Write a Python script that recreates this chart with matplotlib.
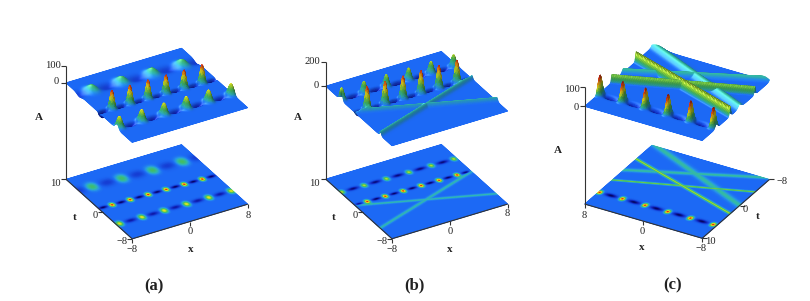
import numpy as np
import matplotlib
matplotlib.use("Agg")
import matplotlib.pyplot as plt
from matplotlib.colors import LinearSegmentedColormap
from mpl_toolkits.mplot3d import proj3d

W, H = 810, 301
plt.rcParams['font.family'] = ['Liberation Serif', 'DejaVu Serif']

# ---- values: (x, t) of the lumps, heights, pits, line solitons ----
A_ROW1_X = [-6.25, -2.21, 1.93, 6.0]
A_ROW1_T = [6.39, 6.24, 6.02, 5.94]
A_ROW1_H = [34, 35, 36, 37]
A_PIT1_X = [-8.2, -4.2, -0.14, 3.97, 8.0]
A_PIT1_T = [6.4, 6.3, 6.1, 6.0, 5.9]
A_PIT1_D = [-12, -12, -12, -12, -12]
A_ROW2_X = [-6.26, -3.8, -1.33, 1.13, 3.6, 6.07]
A_ROW2_T = [0.91, 0.85, 0.79, 0.73, 0.67, 0.61]
A_ROW2_H = [115, 115, 115, 115, 115, 115]
A_PIT2_X = [-7.5, -5.03, -2.56, -0.1, 2.37, 4.84, 7.3]
A_PIT2_T = [0.94, 0.88, 0.82, 0.76, 0.70, 0.64, 0.58]
A_PIT2_D = [-36, -36, -36, -36, -36, -36, -36]
A_ROW3_X = [-7.65, -4.58, -1.51, 1.56, 4.63, 7.7]
A_ROW3_T = [-3.86, -3.9, -3.93, -3.97, -4.0, -4.04]
A_ROW3_H = [70, 72, 72, 72, 72, 70]
A_PIT3_X = [-6.11, -3.05, 0.02, 3.09, 6.16]
A_PIT3_T = [-3.88, -3.91, -3.95, -3.98, -4.02]
A_PIT3_D = [-24, -24, -24, -24, -24]

B_ROW1_X = [-7.92, -4.84, -1.76, 1.32, 4.4, 7.5]
B_ROW1_T = [5.83, 5.80, 5.78, 5.75, 5.73, 5.70]
B_ROW1_H = [100, 100, 100, 100, 100, 100]
B_PIT1_X = [-6.38, -3.3, -0.22, 2.86, 5.95]
B_PIT1_T = [5.82, 5.79, 5.76, 5.74, 5.71]
B_PIT1_D = [-40, -40, -40, -40, -40]
B_ROW2_X = [-6.38, -3.9, -1.43, 1.05, 3.52, 6.0]
B_ROW2_T = [1.94, 1.92, 1.90, 1.89, 1.87, 1.85]
B_ROW2_H = [190, 190, 190, 190, 190, 190]
B_PIT2_X = [-7.6, -5.14, -2.67, -0.19, 2.28, 4.76, 7.2]
B_PIT2_T = [1.95, 1.93, 1.91, 1.9, 1.88, 1.86, 1.84]
B_PIT2_D = [-47, -45, -45, -45, -45, -45, -45]
B_LINE_X0 = [-7.9, -7.74]
B_LINE_T0 = [1.81, -4.78]
B_LINE_X1 = [7.9, 7.87]
B_LINE_T1 = [-5.05, 1.65]
B_LINE_H = [32, 32]
B_LINE_W = [0.3, 0.3]

C_ROW_X = [-7.62, -4.55, -1.48, 1.59, 4.66, 7.73]
C_ROW_T = [6.2, 6.24, 6.28, 6.31, 6.35, 6.39]
C_ROW_H = [104, 104, 104, 104, 104, 104]
C_PIT_X = [-6.1, -3.0, 0.05, 3.1, 6.2]
C_PIT_T = [6.22, 6.26, 6.3, 6.33, 6.37]
C_PIT_D = [-30, -30, -30, -30, -30]
C_LINE_X0 = [8.09, 8.1, 6.7, 8.08]
C_LINE_T0 = [-3.79, 2.78, -7.7, -0.26]
C_LINE_X1 = [-7.7, -7.6, -7.4, -6.4]
C_LINE_T1 = [2.4, -3.9, -0.34, -7.57]
C_LINE_H = [50, 42, 20, 20]
C_LINE_W = [0.23, 0.21, 0.55, 0.42]

TICK_TEXT_A = ["100", "0", "10", "0", "\u22128", "\u22128", "0", "8"]
TICK_TEXT_B = ["200", "0", "10", "0", "\u22128", "\u22128", "0", "8"]
TICK_TEXT_C = ["100", "0", "8", "0", "\u22128", "10", "0", "\u22128"]

xg = np.linspace(-8, 8, 181)
tg = np.linspace(-8, 10, 203)
X, T = np.meshgrid(xg, tg)


def bumps(xs, ts, hs, sx, st):
    out = np.zeros_like(X)
    for x0, t0, h in zip(xs, ts, hs):
        out += h * np.exp(-0.5 * ((X - x0) / sx) ** 2 - 0.5 * ((T - t0) / st) ** 2)
    return out


def lines(x0s, t0s, x1s, t1s, hs, ws):
    out = np.zeros_like(X)
    for x0, t0, x1, t1, h, w in zip(x0s, t0s, x1s, t1s, hs, ws):
        tl = t0 + (t1 - t0) * (X - x0) / (x1 - x0)
        out = np.maximum(out, h / np.cosh((T - tl) / w) ** 2)
    return out


Za = (bumps(A_ROW1_X, A_ROW1_T, A_ROW1_H, 0.5, 0.7) + bumps(A_PIT1_X, A_PIT1_T, A_PIT1_D, 0.75, 0.6)
      + bumps(A_ROW2_X, A_ROW2_T, A_ROW2_H, 0.22, 0.32) + bumps(A_PIT2_X, A_PIT2_T, A_PIT2_D, 0.38, 0.22)
      + bumps(A_ROW3_X, A_ROW3_T, A_ROW3_H, 0.28, 0.42) + bumps(A_PIT3_X, A_PIT3_T, A_PIT3_D, 0.5, 0.3))
Zb = (bumps(B_ROW1_X, B_ROW1_T, B_ROW1_H, 0.24, 0.34) + bumps(B_PIT1_X, B_PIT1_T, B_PIT1_D, 0.48, 0.25)
      + bumps(B_ROW2_X, B_ROW2_T, B_ROW2_H, 0.21, 0.3) + bumps(B_PIT2_X, B_PIT2_T, B_PIT2_D, 0.38, 0.2)
      + lines(B_LINE_X0, B_LINE_T0, B_LINE_X1, B_LINE_T1, B_LINE_H, B_LINE_W))
Zc = (bumps(C_ROW_X, C_ROW_T, C_ROW_H, 0.22, 0.32) + bumps(C_PIT_X, C_PIT_T, C_PIT_D, 0.52, 0.28)
      + lines(C_LINE_X0, C_LINE_T0, C_LINE_X1, C_LINE_T1, C_LINE_H, C_LINE_W))

fig = plt.figure(figsize=(W / 100, H / 100), dpi=100, facecolor='white')
over = fig.add_axes([0, 0, 1, 1], zorder=10)
over.set_xlim(0, W)
over.set_ylim(H, 0)
over.axis('off')
over.patch.set_alpha(0)

FLAT = (28 / 255, 105 / 255, 245 / 255)
pos_cmap = LinearSegmentedColormap.from_list('pos', [
    (0.0, FLAT),
    (0.08, (40 / 255, 150 / 255, 235 / 255)),
    (0.16, (50 / 255, 185 / 255, 180 / 255)),
    (0.32, (70 / 255, 190 / 255, 95 / 255)),
    (0.50, (180 / 255, 225 / 255, 45 / 255)),
    (0.66, (252 / 255, 228 / 255, 30 / 255)),
    (0.85, (245 / 255, 110 / 255, 20 / 255)),
    (1.0, (220 / 255, 30 / 255, 20 / 255))])
neg_cmap = LinearSegmentedColormap.from_list('neg', [
    (0.0, FLAT),
    (0.5, (18 / 255, 40 / 255, 195 / 255)),
    (1.0, (6 / 255, 6 / 255, 95 / 255))])
INK = '#333333'


def colour(Z):
    zmin, zmax = Z.min(), Z.max()
    return np.where((Z >= 0)[..., None],
                    pos_cmap(np.clip(Z / zmax, 0, 1)),
                    neg_cmap(np.clip(Z / zmin, 0, 1)))


def shaded(Z, zscale, azim):
    rgb = colour(Z)[..., :3]
    dz_t, dz_x = np.gradient(Z, tg, xg)
    nx, nt, nz = -dz_x * zscale, -dz_t * zscale, np.ones_like(Z)
    nn = np.sqrt(nx ** 2 + nt ** 2 + nz ** 2)
    a = np.radians(azim)
    left = np.array([np.sin(a), -np.cos(a)])
    cam = np.array([np.cos(a), np.sin(a)])
    L = np.array([*(0.45 * left + 0.2 * cam), 0.85])
    L = L / np.linalg.norm(L)
    d = (nx * L[0] + nt * L[1] + nz * L[2]) / nn
    f = np.clip(0.55 + 0.45 * d / L[2], 0.55, 1.1)
    spec = np.clip((d - L[2]) / (1 - L[2]), 0, 1) ** 2 * 0.22
    out = np.clip(rgb * f[..., None] + spec[..., None], 0, 1)
    return np.dstack([out, np.ones_like(Z)])


def panel(Z, corners_px, z_per_px, zbase, ztop, elev, azim, corner_data):
    ax = fig.add_axes([0.1, 0.1, 0.5, 0.5], projection='3d', computed_zorder=False)
    ax.patch.set_alpha(0)
    ax.set_axis_off()
    ax.set_proj_type('ortho')
    ax.view_init(elev=elev, azim=azim)
    ax.set_xlim(-8, 8)
    ax.set_ylim(-8, 10)
    ax.set_zlim(zbase, ztop)
    ax.set_box_aspect((135, 134, (ztop - zbase) * z_per_px / np.cos(np.radians(elev))))
    M = ax.get_proj()
    cd = np.array(corner_data, float)
    xp, yp, _ = proj3d.proj_transform(cd[:, 0], cd[:, 1], cd[:, 2], M)
    q = np.array(corners_px, float)
    qx, qy = q[:, 0], H - q[:, 1]
    dxp, dyp = xp - xp.mean(), yp - yp.mean()
    k = (np.sum(dxp * (qx - qx.mean())) + np.sum(dyp * (qy - qy.mean()))) / (np.sum(dxp ** 2) + np.sum(dyp ** 2))
    vl = ax.viewLim
    x0, y0 = vl.x0, vl.y0
    L = qx.mean() - k * (xp.mean() - x0)
    B = qy.mean() - k * (yp.mean() - y0)
    Sw = k * (vl.x1 - vl.x0)
    Sh = k * (vl.y1 - vl.y0)
    ax.set_position([L / W, B / H, Sw / W, Sh / H])

    def to_px(x, t, z):
        a, b, _ = proj3d.proj_transform(np.atleast_1d(float(x)), np.atleast_1d(float(t)), np.atleast_1d(float(z)), M)
        return L + k * (a[0] - x0), H - (B + k * (b[0] - y0))

    ax.plot_surface(X, T, np.full_like(Z, zbase), rstride=1, cstride=1,
                    facecolors=colour(Z), shade=False,
                    linewidth=0.5, antialiased=True, zorder=1)
    zscale = z_per_px / 8.0
    ax.plot_surface(X, T, Z, rstride=1, cstride=1,
                    facecolors=shaded(Z, zscale, azim), shade=False,
                    linewidth=0.5, antialiased=True, zorder=2)
    return to_px


def seg(p, q):
    over.plot([p[0], q[0]], [p[1], q[1]], color=INK, lw=0.8, solid_capstyle='butt')


def label(x, y, s, size=7.6, bold=False, color='#222222'):
    over.text(x, y, s, fontsize=size, fontweight='bold' if bold else 'normal', color=color,
              ha='center', va='center')


def frame(to_px, zx, zt, zticks, zbase, xt_edge, tx_edge, t_dir):
    seg(to_px(zx, zt, zbase), to_px(zx, zt, zticks[0]))
    for zv in zticks:
        p = to_px(zx, zt, zv)
        seg(p, (p[0] - 5, p[1]))
    seg(to_px(-8, xt_edge, zbase), to_px(8, xt_edge, zbase))
    seg(to_px(tx_edge, -8, zbase), to_px(tx_edge, 10, zbase))
    for xv in (-8, 0, 8):
        p = to_px(xv, xt_edge, zbase)
        seg(p, (p[0], p[1] + 4))
    for tv in (-8, 0, 10):
        p = to_px(tx_edge, tv, zbase)
        seg(p, (p[0] + t_dir * 5, p[1]))


# panel (a)
zb_a = -585.6
pa = panel(Za, [(131.7, 238.3), (248.3, 203.3), (65.7, 179.3), (181.7, 146)], 0.1667, zb_a, 130, 31.3, -120,
           [(-8, -8, zb_a), (8, -8, zb_a), (-8, 10, zb_a), (8, 10, zb_a)])
frame(pa, -8, 10, [100, 0], zb_a, -8, -8, -1)
for (px, py), s in zip([(53, 65), (56, 82), (55, 183), (95, 216), (122, 242), (132, 249), (190, 232), (248, 215)], TICK_TEXT_A):
    label(px, py, s)
label(39, 118, "A", 8, True)
label(75, 217, "t", 8, True)
label(190.7, 249, "x", 8, True)
label(154, 286, "(a)", 12, True)

# panel (b)
zb_b = -772
pb = panel(Zb, [(391.7, 237.7), (508.3, 203.3), (325, 179.3), (441.7, 146)], 0.1217, zb_b, 230, 31.3, -120,
           [(-8, -8, zb_b), (8, -8, zb_b), (-8, 10, zb_b), (8, 10, zb_b)])
frame(pb, -8, 10, [200, 0], zb_b, -8, -8, -1)
for (px, py), s in zip([(312, 61), (316.7, 85), (314, 183), (355, 216), (381.7, 241.7), (391.7, 249.3), (450, 231.7), (507.7, 214)], TICK_TEXT_B):
    label(px, py, s)
label(298, 117.7, "A", 8, True)
label(334, 217, "t", 8, True)
label(450, 249, "x", 8, True)
label(414, 285.7, "(b)", 12, True)

# panel (c)
zb_c = -503
pc = panel(Zc, [(585, 204), (701.7, 238.3), (770, 179), (651.7, 145.7)], 0.1933, zb_c, 130, 30.3, 120,
           [(8, 10, zb_c), (-8, 10, zb_c), (-8, -8, zb_c), (8, -8, zb_c)])
frame(pc, 8, 10, [100, 0], zb_c, 10, -8, 1)
for (px, py), s in zip([(572, 89), (576, 107), (584, 215), (642, 231.7), (700.7, 248.3), (710, 241.7), (745, 209), (782, 182)], TICK_TEXT_C):
    label(px, py, s)
label(558, 150.7, "A", 8, True)
label(757.7, 216.7, "t", 8, True)
label(642, 248, "x", 8, True)
label(673, 285.7, "(c)", 12, True)

fig.savefig("out.png", dpi=100, facecolor='white')
